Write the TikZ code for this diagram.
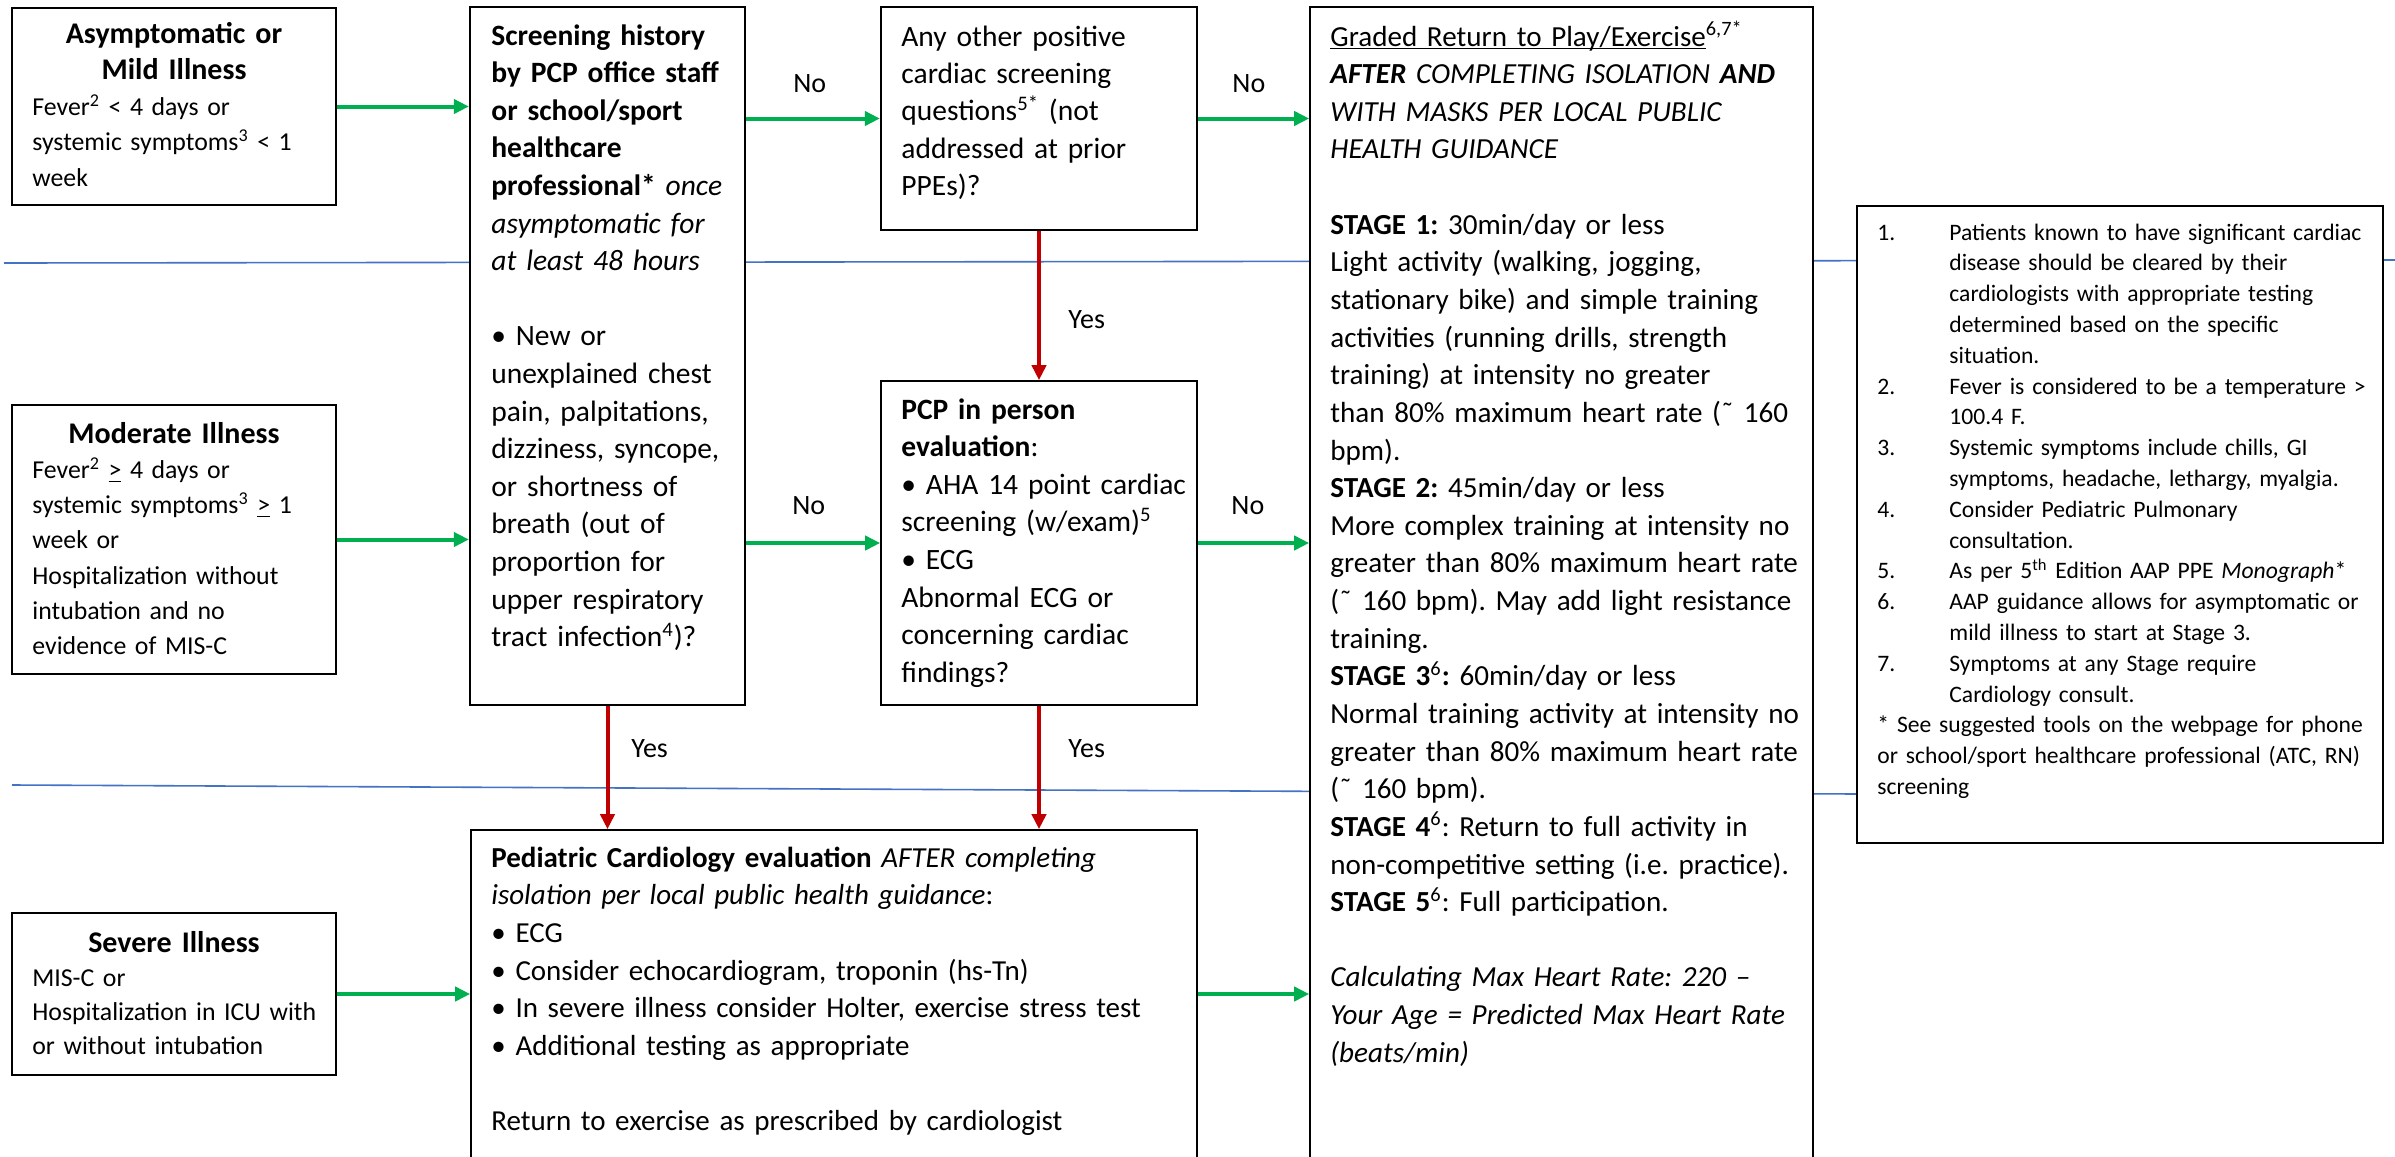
\documentclass[tikz,border=0pt]{standalone}
\usepackage{fontspec}
\setmainfont{Carlito}
\usetikzlibrary{arrows.meta,fit}
\definecolor{ggreen}{HTML}{00B050}
\definecolor{rred}{HTML}{C00000}
\definecolor{bblue}{HTML}{4472C4}
\newcommand{\tildech}{\symbol{"02DC}}
\frenchspacing
\begin{document}
\frenchspacing
\begin{tikzpicture}[x=0.5pt,y=-0.5pt,
  box/.style={draw=black, line width=1.1pt, fill=white, inner sep=0pt},
  thinbox/.style={draw=black, line width=0.8pt, fill=white, inner sep=0pt},
  garrow/.style={draw=ggreen, line width=2pt, -{Triangle[length=7.5pt,width=7pt]}},
  rarrow/.style={draw=rred, line width=2pt, -{Triangle[length=7.5pt,width=7pt]}},
  bline/.style={draw=bblue, line width=0.8pt},
  lbl/.style={anchor=base west, inner sep=0pt, font=\fontsize{14}{17}\selectfont},
  txt/.style={anchor=base west, inner sep=0pt, align=left, text width=#1},
  ttl/.style={anchor=base, inner sep=0pt, align=center, text width=150pt},
]
\clip (0,0) rectangle (2395,1157);
\fill[white] (0,0) rectangle (2395,1157);
% horizontal separators
\draw[bline] (4,263) -- (2395,260);
\draw[bline] (12,785) -- (1857,794);

% boxes
\node[box, fit={(12,8) (336,205)}] (A) {};
\node[box, fit={(12,405) (336,674)}] (M) {};
\node[box, fit={(12,913) (336,1075)}] (S) {};
\node[box, fit={(470,7) (745,705)}] (Sc) {};
\node[box, fit={(881,7) (1197,230)}] (O) {};
\node[thinbox, fit={(881,381) (1197,705)}] (P) {};
\node[thinbox, fit={(471,830) (1197,1200)}] (C) {};
\node[thinbox, fit={(1310,7) (1813,1200)}] (G) {};
\node[thinbox, fit={(1857,206) (2383,843)}] (N) {};

% left box texts
\node[ttl, font=\fontsize{15}{18}\selectfont\bfseries] (At) at (174,43.5) {Asymptomatic or\\Mild Illness};
\node[txt=150pt, font=\fontsize{12.9}{17.8}\selectfont] (Ab) at (32,115)
  {Fever\textsuperscript{2} < 4 days or\\systemic symptoms\textsuperscript{3} < 1\\week};
\node[ttl, font=\fontsize{15}{17.6}\selectfont\bfseries] (Mt) at (174,443) {Moderate Illness};
\node[txt=150pt, font=\fontsize{12.9}{17.6}\selectfont] (Mb) at (32,478.5)
  {Fever\textsuperscript{2} \underline{>} 4 days or\\systemic symptoms\textsuperscript{3} \underline{>} 1\\week or\\Hospitalization without\\intubation and no\\evidence of MIS-C};
\node[ttl, font=\fontsize{15}{17}\selectfont\bfseries] (St) at (174,952) {Severe Illness};
\node[txt=150pt, font=\fontsize{12.9}{17}\selectfont] (Sb) at (32,986)
  {MIS-C or\\Hospitalization in ICU with\\or without intubation};

% screening
\node[txt=140pt, font=\fontsize{14.75}{18.8}\selectfont] (Sct) at (491,45)
  {\textbf{Screening history}\\
   \textbf{by PCP office staff}\\
   \textbf{or school/sport}\\
   \textbf{healthcare}\\
   \textbf{professional*} \textit{once}\\
   \textit{asymptomatic for}\\
   \textit{at least 48 hours}\\
   \mbox{}\\
   • New or\\
   unexplained chest\\
   pain, palpitations,\\
   dizziness, syncope,\\
   or shortness of\\
   breath (out of\\
   proportion for\\
   upper respiratory\\
   tract infection\textsuperscript{4})?};

% other questions
\node[txt=150pt, font=\fontsize{14.75}{18.7}\selectfont] (Ot) at (901,46)
  {Any other positive\\
   cardiac screening\\
   questions\textsuperscript{5*} (not\\
   addressed at prior\\
   PPEs)?};

% PCP
\node[txt=150pt, font=\fontsize{14.75}{18.8}\selectfont] (Pt) at (901,419)
  {\textbf{PCP in person}\\
   \textbf{evaluation}:\\
   • AHA 14 point cardiac\\
   screening (w/exam)\textsuperscript{5}\\
   • ECG\\
   Abnormal ECG or\\
   concerning cardiac\\
   findings?};

% cardiology
\node[txt=350pt, font=\fontsize{14.5}{18.85}\selectfont] (Ct) at (491,867)
  {\textbf{Pediatric Cardiology evaluation} \textit{AFTER completing}\\
   \textit{isolation per local public health guidance}:\\
   • ECG\\
   • Consider echocardiogram, troponin (hs-Tn)\\
   • In severe illness consider Holter, exercise stress test\\
   • Additional testing as appropriate\\
   \mbox{}\\
   Return to exercise as prescribed by cardiologist};

% graded return
\node[txt=250pt, font=\fontsize{14.55}{18.82}\selectfont] (Gt) at (1330,46)
  {\underline{\smash{Graded Return to Play/Exercise}}\textsuperscript{6,7*}\\
   \textbf{\textit{AFTER}} \textit{COMPLETING ISOLATION} \textbf{\textit{AND}}\\
   \textit{WITH MASKS PER LOCAL PUBLIC}\\
   \textit{HEALTH GUIDANCE}\\
   \mbox{}\\
   \textbf{STAGE 1:} 30min/day or less\\
   Light activity (walking, jogging,\\
   stationary bike) and simple training\\
   activities (running drills, strength\\
   training) at intensity no greater\\
   than 80\% maximum heart rate (\tildech{} 160\\
   bpm).\\
   \textbf{STAGE 2:} 45min/day or less\\
   More complex training at intensity no\\
   greater than 80\% maximum heart rate\\
   (\tildech{} 160 bpm). May add light resistance\\
   training.\\
   \textbf{STAGE 3}\textsuperscript{6}\textbf{:} 60min/day or less\\
   Normal training activity at intensity no\\
   greater than 80\% maximum heart rate\\
   (\tildech{} 160 bpm).\\
   \textbf{STAGE 4}\textsuperscript{6}: Return to full activity in\\
   non-competitive setting (i.e. practice).\\
   \textbf{STAGE 5}\textsuperscript{6}: Full participation.\\
   \mbox{}\\
   \textit{Calculating Max Heart Rate: 220 –}\\
   \textit{Your Age = Predicted Max Heart Rate}\\
   \textit{(beats/min)}};

% notes
\node[txt=260pt, font=\fontsize{11.8}{15.4}\selectfont] (Nt) at (1877,240)
  {\makebox[36pt][l]{1.}Patients known to have significant cardiac\\
   \hspace*{36pt}disease should be cleared by their\\
   \hspace*{36pt}cardiologists with appropriate testing\\
   \hspace*{36pt}determined based on the specific\\
   \hspace*{36pt}situation.\\
   \makebox[36pt][l]{2.}Fever is considered to be a temperature >\\
   \hspace*{36pt}100.4 F.\\
   \makebox[36pt][l]{3.}Systemic symptoms include chills, GI\\
   \hspace*{36pt}symptoms, headache, lethargy, myalgia.\\
   \makebox[36pt][l]{4.}Consider Pediatric Pulmonary\\
   \hspace*{36pt}consultation.\\
   \makebox[36pt][l]{5.}As per 5\textsuperscript{th} Edition AAP PPE \textit{Monograph}*\\
   \makebox[36pt][l]{6.}AAP guidance allows for asymptomatic or\\
   \hspace*{36pt}mild illness to start at Stage 3.\\
   \makebox[36pt][l]{7.}Symptoms at any Stage require\\
   \hspace*{36pt}Cardiology consult.\\
   {*} See suggested tools on the webpage for phone\\
   or school/sport healthcare professional (ATC, RN)\\
   screening};

% connectors
\draw[garrow] (A.east) -- (A.east -| Sc.west);
\draw[garrow] (M.east) -- (M.east -| Sc.west);
\draw[garrow] (S.east) -- (S.east -| C.west);
\draw[garrow] (O.west -| Sc.east) -- (O.west);
\draw[garrow] (P.west -| Sc.east) -- (P.west);
\draw[garrow] (O.east) -- (O.east -| G.west);
\draw[garrow] (P.east) -- (P.east -| G.west);
\draw[garrow] (S.east -| C.east) -- (S.east -| G.west);
\draw[rarrow] (O.south) -- (P.north);
\draw[rarrow] (Sc.south) -- (Sc.south |- C.north);
\draw[rarrow] (P.south) -- (P.south |- C.north);

% labels
\node[lbl] (no1) at (793,92) {No};
\node[lbl] (no2) at (1232,92) {No};
\node[lbl] (no3) at (792,514) {No};
\node[lbl] (no4) at (1231,514) {No};
\node[lbl] (yes1) at (1068,328) {Yes};
\node[lbl] (yes2) at (631,757) {Yes};
\node[lbl] (yes3) at (1068,757) {Yes};
\end{tikzpicture}
\end{document}
